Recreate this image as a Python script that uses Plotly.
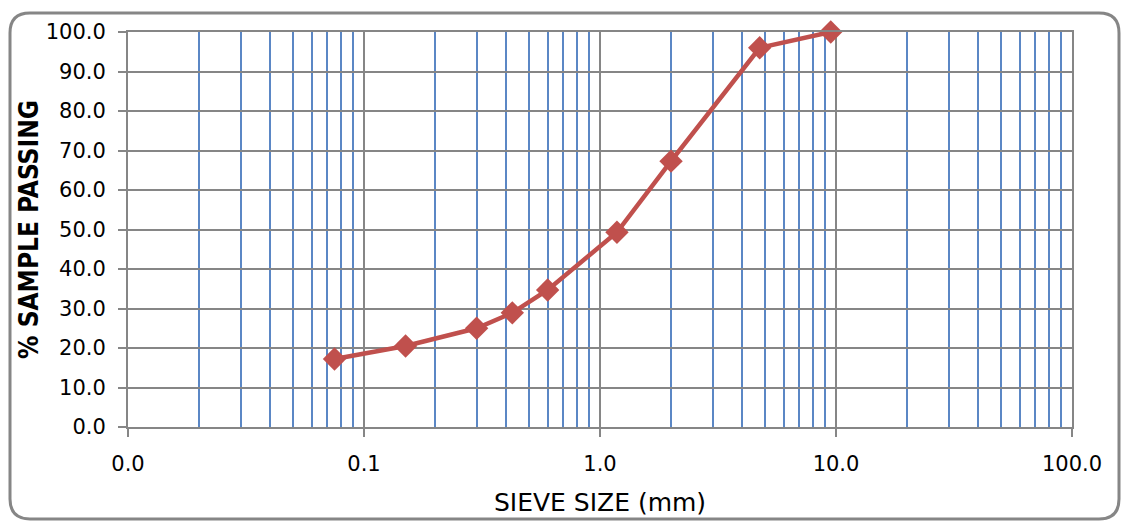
import plotly.graph_objects as go

# ---- data ----
sieve_size_mm = [0.075, 0.15, 0.3, 0.425, 0.6, 1.18, 2.0, 4.75, 9.5]
percent_passing = [17.2, 20.5, 25.0, 28.9, 34.7, 49.3, 67.3, 96.0, 100.0]

x_tick_vals = [0.01, 0.1, 1, 10, 100]
x_tick_text = ["0.0", "0.1", "1.0", "10.0", "100.0"]
y_tick_vals = [0, 10, 20, 30, 40, 50, 60, 70, 80, 90, 100]

minor_vals = [m * d for d in (0.01, 0.1, 1, 10) for m in range(2, 10)]

W, H = 1123, 522
L, R, T, B = 128, 51, 32, 95
PW, PH = W - L - R, H - T - B

GRAY = "#868686"
BLUE = "#5B87C5"
RED = "#C0504D"

fig = go.Figure()
fig.add_trace(go.Scatter(
    x=sieve_size_mm, y=percent_passing, mode="lines+markers",
    line=dict(color=RED, width=4.5),
    marker=dict(symbol="diamond", size=18, color=RED),
    showlegend=False, cliponaxis=False,
))

def px2u(px):
    return (px - L) / PW

def py2v(py):
    return (H - B - py) / PH

# rounded chart-area border (in pixel terms, converted to paper coords)
x0, x1, y0, y1, r = 10, 1119, 13, 519, 20
def P(px, py):
    return f"{px2u(px):.5f},{py2v(py):.5f}"
path = (f"M {P(x0 + r, y0)} L {P(x1 - r, y0)} Q {P(x1, y0)} {P(x1, y0 + r)} "
        f"L {P(x1, y1 - r)} Q {P(x1, y1)} {P(x1 - r, y1)} "
        f"L {P(x0 + r, y1)} Q {P(x0, y1)} {P(x0, y1 - r)} "
        f"L {P(x0, y0 + r)} Q {P(x0, y0)} {P(x0 + r, y0)} Z")
fig.add_shape(type="path", path=path, xref="paper", yref="paper",
              line=dict(color=GRAY, width=3), layer="below")

tick_font = dict(family="DejaVu Sans", size=21, color="#000000")

fig.update_layout(
    width=W, height=H,
    margin=dict(l=L, r=R, t=T, b=B, pad=0, autoexpand=False),
    paper_bgcolor="white", plot_bgcolor="white",
    xaxis=dict(
        type="log", range=[-2, 2], automargin=False,
        tickmode="array", tickvals=x_tick_vals, ticktext=x_tick_text,
        ticks="outside", ticklen=8, tickwidth=2, tickcolor=GRAY,
        showline=True, linecolor=GRAY, linewidth=2, mirror=True,
        showgrid=True, gridcolor=GRAY, gridwidth=2,
        minor=dict(tickmode="array", tickvals=minor_vals, showgrid=True,
                   gridcolor=BLUE, gridwidth=2, ticks=""),
        tickfont=tick_font, ticklabelstandoff=9,
        zeroline=False,
        title=dict(text="SIEVE SIZE (mm)", standoff=18,
                   font=dict(family="DejaVu Sans", size=25, color="#000000")),
    ),
    yaxis=dict(
        range=[0, 100], tickmode="array", tickvals=y_tick_vals, automargin=False,
        tickformat=".1f",
        ticks="outside", ticklen=8, tickwidth=2, tickcolor=GRAY,
        showline=True, linecolor=GRAY, linewidth=2, mirror=True,
        showgrid=True, gridcolor=GRAY, gridwidth=2,
        tickfont=tick_font, ticklabelstandoff=8,
        zeroline=False,
        title=dict(text="% SAMPLE PASSING", standoff=0,
                   font=dict(family="DejaVu Sans Condensed, DejaVu Sans", size=26,
                             color="#000000", weight="bold")),
    ),
)

fig.write_html("out.html")
